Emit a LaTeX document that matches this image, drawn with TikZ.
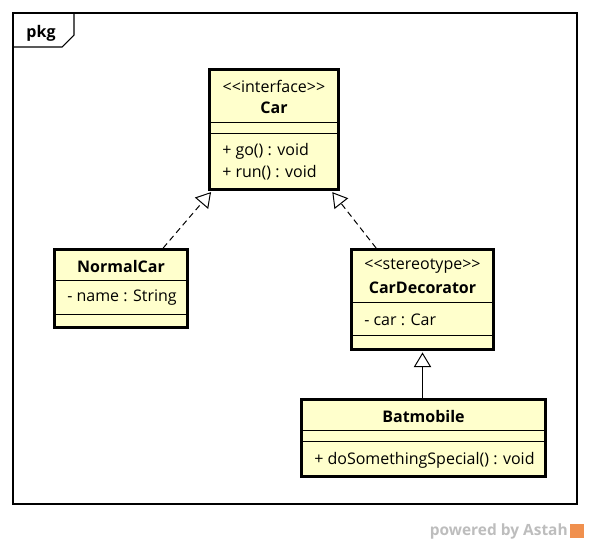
\documentclass[tikz,border=0pt]{standalone}
\usepackage{fontspec}
\setmainfont{Open Sans}[Ligatures=TeXOff]
\usetikzlibrary{arrows.meta,positioning,calc}
\definecolor{ufill}{HTML}{FFFFCC}
\definecolor{uink}{HTML}{000000}
\definecolor{umuted}{HTML}{BDBDBD}
\definecolor{uorange}{HTML}{F0904E}
\tikzset{
  ubox/.style={draw=uink, line width=2.2pt, fill=ufill, inner sep=0pt},
  urule/.style={draw=uink, line width=0.75pt},
  uname/.style={font=\fontsize{12}{14}\selectfont\bfseries, inner sep=0pt},
  ustereo/.style={font=\fontsize{12}{14}\selectfont, inner sep=0pt},
  umember/.style={font=\fontsize{12}{14}\selectfont, inner sep=0pt, anchor=west},
  urealize/.style={-{Triangle[open,length=11pt,width=13pt]}, draw=uink,
    line width=0.75pt, dash pattern=on 4.5pt off 3pt, shorten >=1.1pt},
  ugeneral/.style={-{Triangle[open,length=11pt,width=13pt]}, draw=uink,
    line width=0.75pt, shorten >=1.1pt},
}

\begin{document}
\begin{tikzpicture}[x=0.75pt,y=-0.75pt]
\useasboundingbox (0,0) rectangle (590,544);

% package frame
\draw[draw=uink, line width=0.8pt] (13,13) rectangle (577,504);
\draw[draw=uink, line width=0.8pt] (13,47) -- (62,47) -- (74,35) -- (74,13);
\node[uname] (pkg) at (41,33) {pkg};

% interface Car
\node[ubox, minimum width=96.75pt, minimum height=90pt] (car) at (274,129.5) {};
\node[ustereo] (carst) at (274,86) {<<interface>>};
\node[uname] (carnm) at (274,108) {Car};
\draw[urule] (car.west |- 0,122.5) -- (car.east |- 0,122.5);
\draw[urule] (car.west |- 0,133) -- (car.east |- 0,133);
\node[umember] (cargo) at (222,151) {+ go() : void};
\node[umember] (carrun) at (222,173) {+ run() : void};

% NormalCar
\node[ubox, minimum width=99.75pt, minimum height=58.5pt] (ncar) at (121,288.5) {};
\node[uname] (ncarnm) at (121,266) {NormalCar};
\draw[urule] (ncar.west |- 0,280) -- (ncar.east |- 0,280);
\draw[urule] (ncar.west |- 0,314) -- (ncar.east |- 0,314);
\node[umember] (ncarname) at (67,298) {- name : String};

% CarDecorator
\node[ubox, minimum width=106.5pt, minimum height=75pt] (deco) at (422.5,299.5) {};
\node[ustereo] (decost) at (422.5,266) {<<stereotype>>};
\node[uname] (deconm) at (422.5,288) {CarDecorator};
\draw[urule] (deco.west |- 0,302) -- (deco.east |- 0,302);
\draw[urule] (deco.west |- 0,335) -- (deco.east |- 0,335);
\node[umember] (decocar) at (364,320) {- car : Car};

% Batmobile
\node[ubox, minimum width=183pt, minimum height=57.75pt] (bat) at (423.5,438) {};
\node[uname] (batnm) at (423.5,416) {Batmobile};
\draw[urule] (bat.west |- 0,430) -- (bat.east |- 0,430);
\draw[urule] (bat.west |- 0,441) -- (bat.east |- 0,441);
\node[umember] (batop) at (314,460) {+ doSomethingSpecial() : void};

% relations
\draw[urealize] ($(ncar.north west)!0.81!(ncar.north east)$)
  -- ($(car.south west)!0.03!(car.south east)$);
\draw[urealize] ($(deco.north west)!0.18!(deco.north east)$)
  -- ($(car.south west)!0.935!(car.south east)$);
\draw[ugeneral] (bat.north -| deco.south) -- (deco.south);

% watermark
\node[font=\fontsize{11.6}{13}\selectfont\bfseries, text=umuted, inner sep=0pt,
  anchor=east] (mark) at (568,531) {powered by Astah};
\node[fill=uorange, minimum size=11pt, inner sep=0pt, right=1pt of mark] (logo) {};

\end{tikzpicture}
\end{document}
